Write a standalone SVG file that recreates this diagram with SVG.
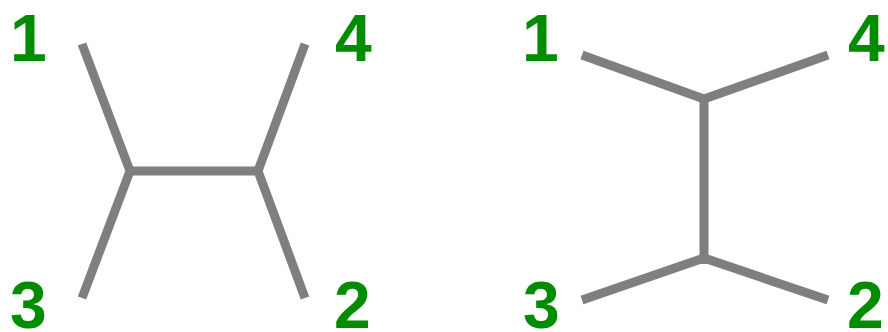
<svg xmlns="http://www.w3.org/2000/svg" width="888" height="332" viewBox="0 0 888 332">
<style>
.e{fill:none;stroke:#7f7f7f;stroke-width:9;stroke-linejoin:miter;stroke-linecap:butt}
.l{font-family:"Liberation Sans",Arial,sans-serif;font-weight:bold;font-size:66px;fill:#008c00}
</style>
<rect width="888" height="332" fill="#fff"/>
<g id="connectors">
<polyline class="e" points="82,44 130,171 82,298"/>
<line class="e" x1="130" y1="171" x2="258" y2="171"/>
<polyline class="e" points="305,44 258,171 305,298"/>
<polyline class="e" points="582,55 704,99 828,55"/>
<line class="e" x1="704" y1="99" x2="704" y2="264"/>
<polyline class="e" points="582,300 704,258 828,300"/>
</g>
<g id="n1a"><text class="l" x="10" y="61">1</text></g>
<g id="n4a"><text class="l" x="335" y="61">4</text></g>
<g id="n3a"><text class="l" x="10" y="328">3</text></g>
<g id="n2a"><text class="l" x="334" y="328">2</text></g>
<g id="n1b"><text class="l" x="522" y="61">1</text></g>
<g id="n4b"><text class="l" x="848" y="61">4</text></g>
<g id="n3b"><text class="l" x="523" y="328">3</text></g>
<g id="n2b"><text class="l" x="847" y="328">2</text></g>
</svg>
